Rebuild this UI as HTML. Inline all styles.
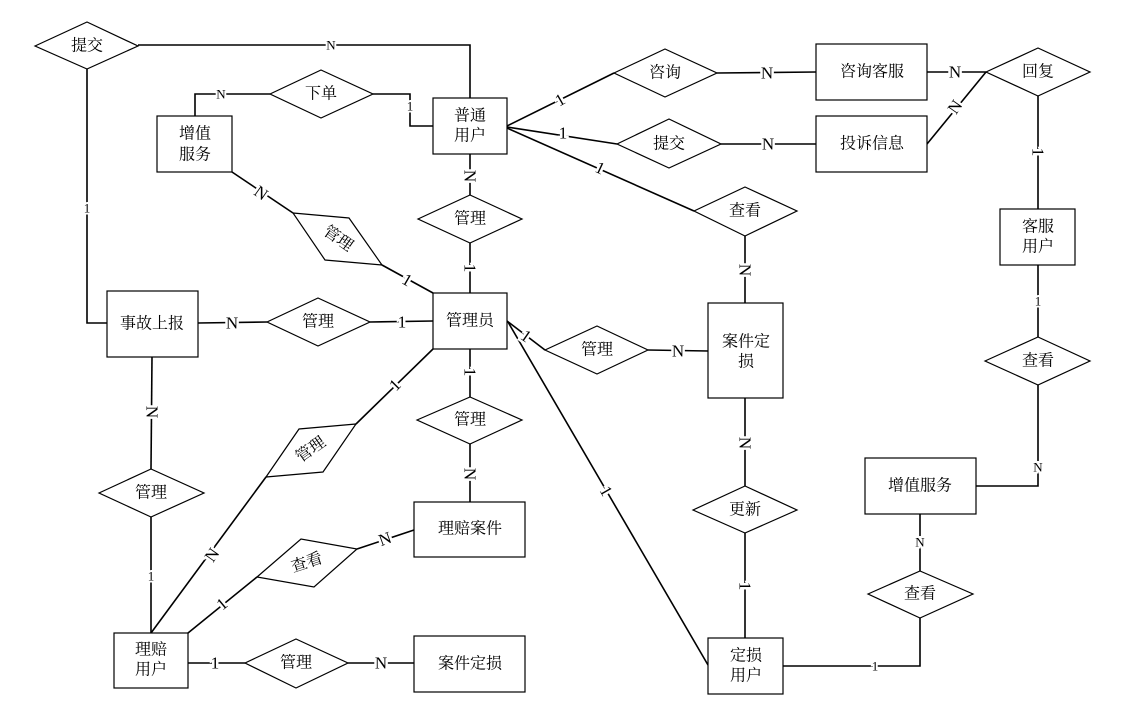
<!DOCTYPE html>
<html><head><meta charset="utf-8"><style>
html,body{margin:0;padding:0;background:#fff;}
svg{display:block;}
text{font-family:"Liberation Serif","Noto Serif CJK SC",serif;fill:#000;}
.t{font-size:16px;text-anchor:middle;dominant-baseline:central;}
.c{font-size:17px;text-anchor:middle;dominant-baseline:central;stroke:#fff;stroke-width:5px;paint-order:stroke;}
.s{font-size:13px;text-anchor:middle;dominant-baseline:central;stroke:#fff;stroke-width:4px;paint-order:stroke;}
</style></head><body>
<svg width="1122" height="726" viewBox="0 0 1122 726" xmlns="http://www.w3.org/2000/svg">
<g fill="none" stroke="#000" stroke-width="1.6">
<!-- lines -->
<polyline points="138,45 470,45 470,98"/>
<polyline points="87,69 87,323 107,323"/>
<polyline points="195,116 195,94 270,94"/>
<polyline points="373,94 410,94 410,126 433,126"/>
<line x1="470" y1="154" x2="470" y2="195"/>
<line x1="470" y1="243" x2="470" y2="293"/>
<line x1="232" y1="172" x2="293" y2="213"/>
<line x1="382" y1="265" x2="433" y2="293"/>
<line x1="198" y1="323" x2="267" y2="322"/>
<line x1="370" y1="322" x2="433" y2="321"/>
<line x1="507" y1="126" x2="614" y2="73"/>
<line x1="717" y1="73" x2="816" y2="72"/>
<line x1="927" y1="72" x2="986" y2="72"/>
<line x1="927" y1="144" x2="986" y2="72"/>
<line x1="507" y1="127" x2="617" y2="144"/>
<line x1="721" y1="144" x2="816" y2="144"/>
<line x1="507" y1="128" x2="694" y2="211"/>
<line x1="745" y1="236" x2="745" y2="303"/>
<line x1="1038" y1="96" x2="1038" y2="209"/>
<line x1="1038" y1="265" x2="1038" y2="337"/>
<polyline points="1038,385 1038,486 976,486"/>
<line x1="920" y1="514" x2="920" y2="571"/>
<polyline points="920,618 920,666 783,666"/>
<line x1="745" y1="398" x2="745" y2="486"/>
<line x1="745" y1="533" x2="745" y2="638"/>
<line x1="508" y1="322" x2="708" y2="665"/>
<line x1="507" y1="321" x2="545" y2="350"/>
<line x1="648" y1="350" x2="708" y2="351"/>
<line x1="152" y1="357" x2="151" y2="469"/>
<line x1="151" y1="517" x2="151" y2="633"/>
<line x1="151" y1="633" x2="266" y2="477"/>
<line x1="356" y1="424" x2="433" y2="349"/>
<line x1="470" y1="349" x2="470" y2="397"/>
<line x1="470" y1="444" x2="470" y2="502"/>
<line x1="188" y1="633" x2="257" y2="577"/>
<line x1="357" y1="549" x2="414" y2="530"/>
<line x1="188" y1="663" x2="245" y2="663"/>
<line x1="348" y1="663" x2="414" y2="663"/>
</g>
<g fill="#fff" stroke="#000" stroke-width="1.2">
<!-- diamonds -->
<polygon points="35,46 87,22 138,46 87,69"/>
<polygon points="270,94 321,70 373,94 321,118"/>
<polygon points="418,219 470,195 522,219 470,243"/>
<polygon points="293,213 349,218 382,265 325,260"/>
<polygon points="267,322 318,298 370,322 318,346"/>
<polygon points="614,73 665,49 717,73 665,97"/>
<polygon points="617,144 669,119 721,144 669,168"/>
<polygon points="694,211 745,187 797,211 745,236"/>
<polygon points="986,72 1038,48 1090,72 1038,96"/>
<polygon points="985,361 1038,337 1090,361 1038,385"/>
<polygon points="868,594 920,571 973,594 920,618"/>
<polygon points="693,510 745,486 797,510 745,533"/>
<polygon points="545,350 597,326 648,350 597,374"/>
<polygon points="99,493 151,469 204,493 151,517"/>
<polygon points="266,477 299,429 356,424 323,472"/>
<polygon points="417,420 470,397 522,420 470,444"/>
<polygon points="257,577 301,539 357,549 314,587"/>
<polygon points="245,663 296,639 348,663 296,688"/>
<!-- boxes -->
<rect x="433" y="98" width="74" height="56"/>
<rect x="157" y="116" width="75" height="56"/>
<rect x="433" y="293" width="74" height="56"/>
<rect x="107" y="291" width="91" height="66"/>
<rect x="816" y="44" width="111" height="56"/>
<rect x="816" y="116" width="111" height="56"/>
<rect x="708" y="303" width="75" height="95"/>
<rect x="1000" y="209" width="75" height="56"/>
<rect x="865" y="458" width="111" height="56"/>
<rect x="708" y="638" width="75" height="56"/>
<rect x="114" y="633" width="74" height="55"/>
<rect x="414" y="502" width="111" height="55"/>
<rect x="414" y="636" width="111" height="56"/>
</g>
<!-- diamond labels -->
<text class="t" x="87" y="46">提交</text>
<text class="t" x="321" y="94">下单</text>
<text class="t" x="470" y="219">管理</text>
<text class="t" transform="translate(338,239) rotate(35)">管理</text>
<text class="t" x="318" y="322">管理</text>
<text class="t" x="665" y="73">咨询</text>
<text class="t" x="669" y="144">提交</text>
<text class="t" x="745" y="211">查看</text>
<text class="t" x="1038" y="72">回复</text>
<text class="t" x="1038" y="361">查看</text>
<text class="t" x="920" y="594">查看</text>
<text class="t" x="745" y="510">更新</text>
<text class="t" x="597" y="350">管理</text>
<text class="t" x="151" y="493">管理</text>
<text class="t" transform="translate(311,450) rotate(-35)">管理</text>
<text class="t" x="470" y="420">管理</text>
<text class="t" transform="translate(307,563) rotate(-18)">查看</text>
<text class="t" x="296" y="663">管理</text>
<!-- box labels -->
<text class="t" x="470" y="116">普通</text><text class="t" x="470" y="136">用户</text>
<text class="t" x="195" y="134">增值</text><text class="t" x="195" y="155">服务</text>
<text class="t" x="470" y="321">管理员</text>
<text class="t" x="152" y="324">事故上报</text>
<text class="t" x="872" y="72">咨询客服</text>
<text class="t" x="872" y="144">投诉信息</text>
<text class="t" x="746" y="342">案件定</text><text class="t" x="746" y="362">损</text>
<text class="t" x="1038" y="227">客服</text><text class="t" x="1038" y="247">用户</text>
<text class="t" x="920" y="486">增值服务</text>
<text class="t" x="746" y="656">定损</text><text class="t" x="746" y="676">用户</text>
<text class="t" x="151" y="650">理赔</text><text class="t" x="151" y="670">用户</text>
<text class="t" x="470" y="529">理赔案件</text>
<text class="t" x="470" y="664">案件定损</text>
<!-- cardinalities -->
<text class="s" x="331" y="45">N</text>
<text class="s" x="87" y="208">1</text>
<text class="s" x="221" y="94">N</text>
<text class="s" x="410" y="106">1</text>
<text class="c" transform="translate(470,176) rotate(90)">N</text>
<text class="c" transform="translate(470,268) rotate(90)">1</text>
<text class="c" transform="translate(261,193) rotate(35)">N</text>
<text class="c" transform="translate(407,280) rotate(30)">1</text>
<text class="c" x="232" y="323">N</text>
<text class="c" x="402" y="322">1</text>
<text class="c" transform="translate(560,100) rotate(-30)">1</text>
<text class="c" x="767" y="73">N</text>
<text class="c" x="955" y="72">N</text>
<text class="c" transform="translate(955,107) rotate(-55)">N</text>
<text class="c" x="563" y="133">1</text>
<text class="c" x="768" y="144">N</text>
<text class="c" transform="translate(600,168) rotate(25)">1</text>
<text class="c" transform="translate(745,270) rotate(90)">N</text>
<text class="c" transform="translate(1038,152) rotate(90)">1</text>
<text class="s" x="1038" y="301">1</text>
<text class="s" x="1038" y="467">N</text>
<text class="s" x="920" y="542">N</text>
<text class="s" x="875" y="666">1</text>
<text class="c" transform="translate(745,443) rotate(90)">N</text>
<text class="c" transform="translate(745,586) rotate(90)">1</text>
<text class="c" transform="translate(606,491) rotate(60)">1</text>
<text class="c" transform="translate(526,336) rotate(35)">1</text>
<text class="c" x="678" y="351">N</text>
<text class="c" transform="translate(152,412) rotate(90)">N</text>
<text class="s" x="151" y="576">1</text>
<text class="c" transform="translate(212,555) rotate(-55)">N</text>
<text class="c" transform="translate(395,385) rotate(-45)">1</text>
<text class="c" transform="translate(470,372) rotate(90)">1</text>
<text class="c" transform="translate(470,474) rotate(90)">N</text>
<text class="c" transform="translate(222,604) rotate(-40)">1</text>
<text class="c" transform="translate(385,539) rotate(-20)">N</text>
<text class="c" x="215" y="663">1</text>
<text class="c" x="381" y="663">N</text>
</svg>
</body></html>
